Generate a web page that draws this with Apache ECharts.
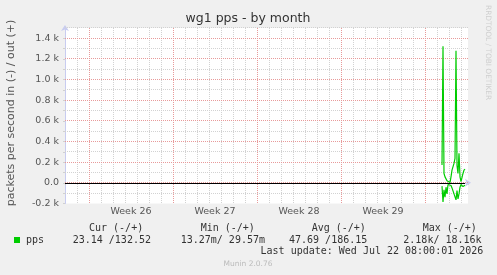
<!DOCTYPE html>
<html><head><meta charset="utf-8">
<script src="https://cdn.jsdelivr.net/npm/echarts@6/dist/echarts.min.js"></script>
<style>html,body{margin:0;padding:0;background:#f0f0f0}#c{width:497px;height:275px}</style>
</head><body><div id="c"></div>
<script>
// ---- data ----
const titleText = 'wg1 pps - by month';
const yAxisTitle = 'packets per second in (-) / out (+)';
const sideText = 'RRDTOOL / TOBI OETIKER';
const footerText = 'Munin 2.0.76';
const weekLabels = ['Week 26', 'Week 27', 'Week 28', 'Week 29'];
const weekLabelHours = [132, 300, 468, 636];      // hours from left edge (week centres)
const weekBoundaryHours = [48, 216, 384, 552, 720]; // hours from left edge (week starts)
const xMaxHour = 806;
const dayHours = 24;
const yMin = -200, yMax = 1500, yStep = 100, yMajorStep = 200;
const sampleStartHour = 754;
const sampleStepHours = 2;
// out (+) packets/s
const outValues = [172, 1322, 91, 58, 70, 20, 5, 2, 3, 58, 123, 140, 188, 237, 1280, 170, 91, 286, 58, 12, 5, 91, 123, 133];
// in (-) packets/s (plotted negative)
const inValues  = [32, 185, 68, 139, 42, 107, 16, 3, 8, 26, 49, 36, 107, 123, 165, 75, 155, 107, 42, 16, 3, 36, 20, 23];
const legendName = 'pps';
const statHeaders = ['Cur (-/+)', 'Min (-/+)', 'Avg (-/+)', 'Max (-/+)'];
const statValues = ['23.14 /132.52', '13.27m/ 29.57m', '47.69 /186.15', '2.18k/ 18.16k'];
const lastUpdate = 'Last update: Wed Jul 22 08:00:01 2026';

// ---- build ----
const hours = outValues.map((_, i) => sampleStartHour + i * sampleStepHours);
const outData = outValues.map((v, i) => [hours[i], v]);
const inData = inValues.map((v, i) => [hours[i], -v]);
const lastHour = hours[hours.length - 1];

const green = '#00cc00';
const axisCol = '#c8ccf0';
const majorCol = '#e89a9a';
const minorCol = '#d2d2d2';
const mono = '"DejaVu Sans Mono", monospace';
const sans = '"DejaVu Sans", sans-serif';

// grid line positions
const vMajor = weekBoundaryHours.slice();
const vMinor = [];
for (let h = dayHours; h < xMaxHour; h += dayHours) if (vMajor.indexOf(h) < 0) vMinor.push(h);
const hMajor = [], hMinor = [];
for (let v = yMin + yStep; v <= yMax; v += yStep) ((v % yMajorStep === 0) ? hMajor : hMinor).push(v);

function snap(p) { return Math.round(p - 0.5) + 0.5; }
function gridSeries(positions, vertical, color) {
  return {
    type: 'custom', z: 1, silent: true, animation: false, clip: false,
    data: positions.map(p => vertical ? [p, yMin] : [0, p]),
    renderItem: (params, api) => {
      let a, b;
      if (vertical) { a = api.coord([api.value(0), yMax]); b = api.coord([api.value(0), yMin]); const x = snap(a[0]); a[0] = x; b[0] = x; }
      else { a = api.coord([0, api.value(1)]); b = api.coord([xMaxHour, api.value(1)]); const y = snap(a[1]); a[1] = y; b[1] = y; }
      return {type: 'line', silent: true, shape: {x1: a[0], y1: a[1], x2: b[0], y2: b[1]},
        style: {stroke: color, lineWidth: 1, lineDash: [1, 1], fill: null}};
    }
  };
}

const headerX = [89, 200.7, 311.7, 422.7];
const valueX = [72.7, 180.7, 289, 403.3];

const graphics = [
  {type: 'text', x: 248, y: 18.5, style: {text: titleText, fill: '#333', fontSize: 12.5, fontFamily: sans, align: 'center', verticalAlign: 'middle'}},
  {type: 'text', x: 11, y: 113, rotation: Math.PI / 2, style: {text: yAxisTitle, fill: '#555', fontSize: 11, fontFamily: sans, align: 'center', verticalAlign: 'middle'}},
  {type: 'text', x: 488, y: 5, rotation: -Math.PI / 2, style: {text: sideText, fill: '#cfcfcf', fontSize: 7.4, fontFamily: sans, align: 'left', verticalAlign: 'middle'}},
  {type: 'text', x: 248, y: 264.5, style: {text: footerText, fill: '#bbb', fontSize: 7.5, fontFamily: sans, align: 'center', verticalAlign: 'middle'}},
  {type: 'rect', shape: {x: 14, y: 237, width: 6, height: 6}, style: {fill: green}},
  {type: 'text', x: 26, y: 240, style: {text: legendName, fill: '#333', fontSize: 10, fontFamily: mono, align: 'left', verticalAlign: 'middle'}},
  {type: 'text', x: 483.3, y: 251.5, style: {text: lastUpdate, fill: '#333', fontSize: 10, fontFamily: mono, align: 'right', verticalAlign: 'middle'}}
];
statHeaders.forEach((t, i) => graphics.push({type: 'text', x: headerX[i], y: 228, style: {text: t, fill: '#333', fontSize: 10, fontFamily: mono, align: 'left', verticalAlign: 'middle'}}));
statValues.forEach((t, i) => graphics.push({type: 'text', x: valueX[i], y: 240, style: {text: t, fill: '#333', fontSize: 10, fontFamily: mono, align: 'left', verticalAlign: 'middle'}}));

const chart = echarts.init(document.getElementById('c'), null, {renderer: 'canvas'});
chart.setOption({
  backgroundColor: '#f0f0f0',
  animation: false,
  grid: {left: 65, right: 29, top: 28, bottom: 71.5, show: true, backgroundColor: '#ffffff', borderWidth: 0},
  xAxis: {
    type: 'value', min: 0, max: xMaxHour, interval: dayHours,
    axisLine: {show: true, lineStyle: {color: axisCol, width: 1}, symbol: ['none', 'arrow'], symbolSize: [6, 6], symbolOffset: [0, 3]},
    axisTick: {show: true, length: 2, lineStyle: {color: '#c8c8c8'}},
    axisLabel: {customValues: weekLabelHours, formatter: v => weekLabels[weekLabelHours.indexOf(v)] || '', fontSize: 9.5, fontFamily: sans, color: '#555', margin: 3},
    splitLine: {show: false}
  },
  yAxis: {
    type: 'value', min: yMin, max: yMax, interval: yStep,
    axisLine: {show: true, lineStyle: {color: axisCol, width: 1}, symbol: ['none', 'arrow'], symbolSize: [6, 6], symbolOffset: [0, 3]},
    axisTick: {show: true, length: 2, lineStyle: {color: '#d0d0d0'}},
    axisLabel: {formatter: v => (v % yMajorStep !== 0 || v === yMax) ? '' : (v === 0 ? '0.0' : (v / 1000).toFixed(1) + ' k'), fontSize: 9.5, fontFamily: sans, color: '#555', margin: 6},
    splitLine: {show: false}
  },
  series: [
    gridSeries(vMinor, true, minorCol),
    gridSeries(hMinor, false, minorCol),
    gridSeries(vMajor, true, majorCol),
    gridSeries(hMajor, false, majorCol),
    {name: 'out', type: 'line', data: outData, showSymbol: false, z: 3, lineStyle: {color: green, width: 1.2}, itemStyle: {color: green},
      markLine: {silent: true, symbol: ['none', 'none'], label: {show: false}, lineStyle: {color: '#000', width: 1, type: 'solid'},
        data: [[{coord: [0, 0]}, {coord: [lastHour, 0]}]]}},
    {name: 'in', type: 'line', data: inData, showSymbol: false, z: 3, lineStyle: {color: green, width: 1.2}, itemStyle: {color: green}}
  ],
  graphic: graphics
});
</script></body></html>
